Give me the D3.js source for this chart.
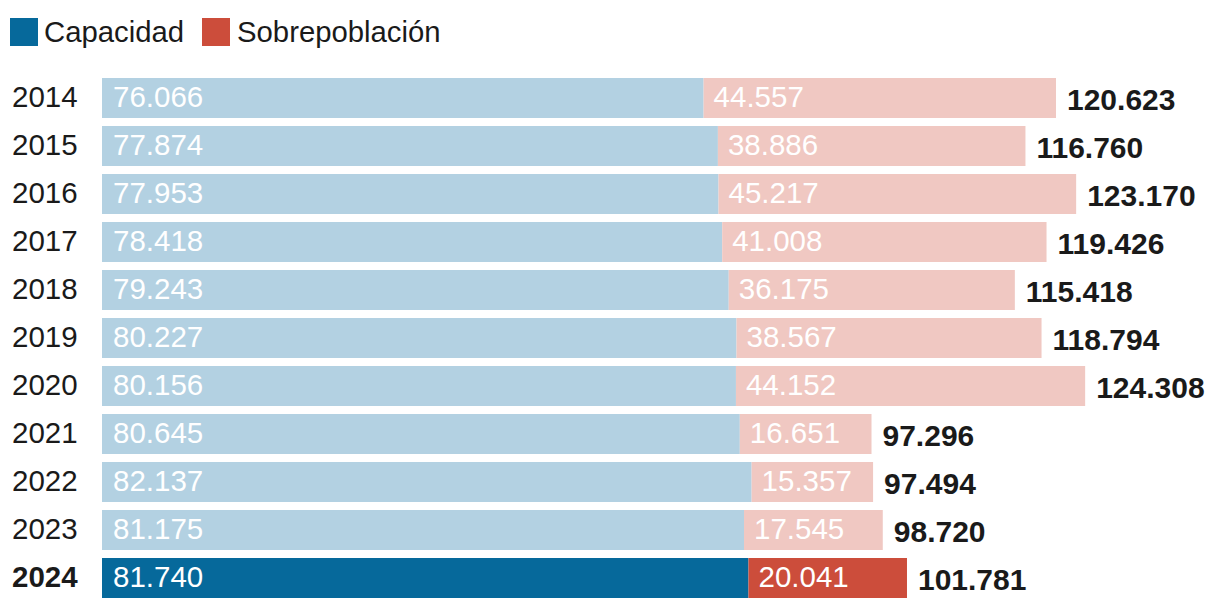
<!DOCTYPE html>
<html><head><meta charset="utf-8">
<script src="https://cdn.jsdelivr.net/npm/d3@7"></script>
<style>
html,body{margin:0;padding:0;background:#fff;}
svg text{font-family:"Liberation Sans",Arial,sans-serif;}
</style></head>
<body><svg id="c" width="1220" height="608"></svg>
<script>
const years = ["2014","2015","2016","2017","2018","2019","2020","2021","2022","2023","2024"];
const capacidad = [76066,77874,77953,78418,79243,80227,80156,80645,82137,81175,81740];
const sobrepoblacion = [44557,38886,45217,41008,36175,38567,44152,16651,15357,17545,20041];
const totals = [120623,116760,123170,119426,115418,118794,124308,97296,97494,98720,101781];
const legendLabels = ["Capacidad","Sobrepoblación"];
const highlightYear = "2024";

const colors = {
  capLight:"#b3d1e2", capDark:"#06699b",
  sobLight:"#f0c8c2", sobDark:"#cc4d3b"
};
const fmt = v => d3.format(",")(v).replace(/,/g,".");

const svg = d3.select("#c");
const x = d3.scaleLinear().domain([0,120623]).range([102,1056]);
const y = d3.scaleBand().domain(years).range([78,598]).paddingInner(8/48).paddingOuter(0).align(0);
const bw = y.bandwidth();

const data = years.map((yr,i)=>({yr,cap:capacidad[i],sob:sobrepoblacion[i],tot:totals[i],hi:yr===highlightYear}));

// legend
const lg = svg.append("g");
[[10,44,colors.capDark,legendLabels[0]],[202,237,colors.sobDark,legendLabels[1]]].forEach(([sx,tx,c,t])=>{
  lg.append("rect").attr("x",sx).attr("y",18).attr("width",28).attr("height",28).attr("fill",c);
  lg.append("text").attr("x",tx).attr("y",42).attr("font-size",29.3).attr("fill","#1a1a1a").text(t);
});

const rows = svg.append("g").selectAll("g").data(data).join("g");
rows.append("rect").attr("x",x(0)).attr("y",d=>y(d.yr)).attr("width",d=>x(d.cap)-x(0)).attr("height",bw)
  .attr("fill",d=>d.hi?colors.capDark:colors.capLight);
rows.append("rect").attr("x",d=>x(d.cap)).attr("y",d=>y(d.yr)).attr("width",d=>x(d.cap+d.sob)-x(d.cap)).attr("height",bw)
  .attr("fill",d=>d.hi?colors.sobDark:colors.sobLight);
rows.append("text").attr("x",x(0)+11).attr("y",d=>y(d.yr)+28.5).attr("font-size",29.5).attr("fill","#fff").text(d=>fmt(d.cap));
rows.append("text").attr("x",d=>x(d.cap)+10).attr("y",d=>y(d.yr)+28.5).attr("font-size",29.5).attr("fill","#fff").text(d=>fmt(d.sob));
rows.append("text").attr("x",d=>x(d.cap+d.sob)+11).attr("y",d=>y(d.yr)+32).attr("font-size",30).attr("font-weight","bold")
  .attr("fill","#1a1a1a").text(d=>fmt(d.tot));
rows.append("text").attr("x",12).attr("y",d=>y(d.yr)+28.5).attr("font-size",29.5).attr("font-weight",d=>d.hi?"bold":"normal")
  .attr("fill","#1a1a1a").text(d=>d.yr);
</script></body></html>
